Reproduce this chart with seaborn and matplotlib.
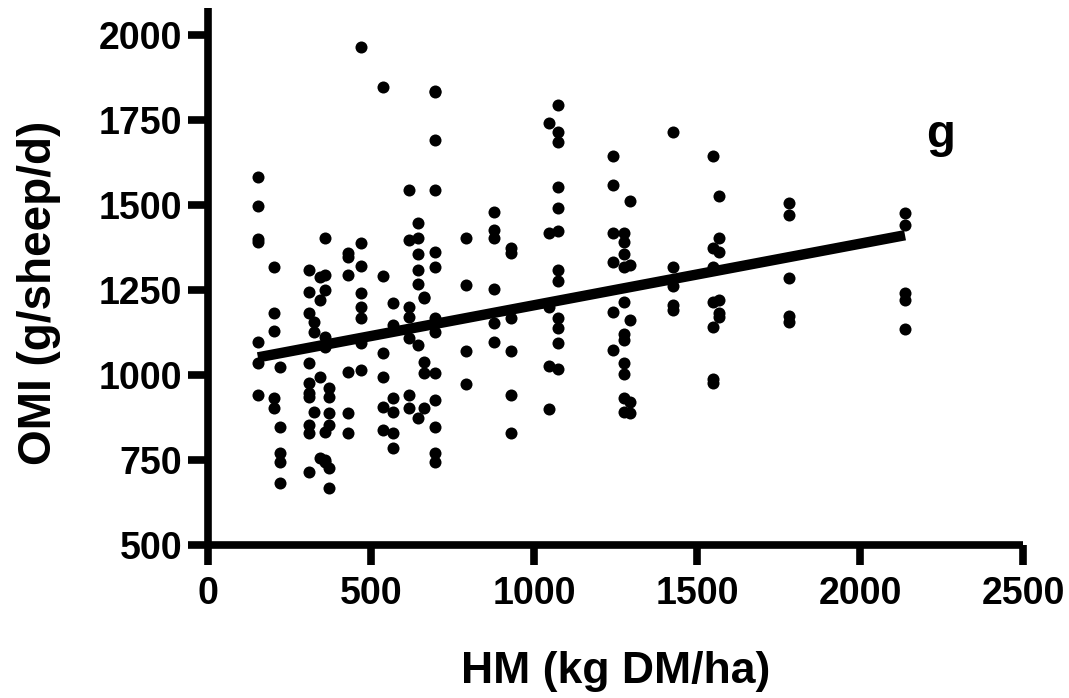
import matplotlib
matplotlib.use("Agg")
import matplotlib.pyplot as plt
import seaborn as sns
import numpy as np
import pandas as pd

# herbage mass (kg DM/ha) of each sampling group, and the OMI values read at each
hm_groups = [153, 202, 221, 309, 325, 343, 358, 371, 429, 469, 536, 567,
             616, 643, 662, 695, 790, 876, 928, 1045, 1072, 1241, 1275,
             1293, 1425, 1550, 1566, 1783, 2138]
omi_groups = [
    [1583, 1497, 1400, 1391, 1097, 1035, 941],
    [1318, 1182, 1129, 932, 903],
    [1024, 847, 771, 744, 682],
    [1309, 1244, 1182, 1035, 976, 947, 935, 853, 829, 715],
    [1156, 1126, 891],
    [1288, 1221, 994, 756],
    [1403, 1294, 1250, 1112, 1082, 832, 750, 744],
    [962, 935, 888, 853, 726, 668],
    [1359, 1347, 1294, 1009, 888, 829],
    [1965, 1388, 1321, 1241, 1200, 1168, 1094, 1015],
    [1847, 1291, 1065, 994, 906, 838],
    [1212, 1147, 932, 891, 829, 785],
    [1544, 1397, 1200, 1171, 1109, 941, 903],
    [1447, 1403, 1356, 1309, 1268, 1088, 874],
    [1229, 1226, 1038, 1006, 903],
    [1832, 1835, 1691, 1544, 1362, 1318, 1168, 1126, 1006, 926, 847, 771, 744],
    [1403, 1265, 1071, 974],
    [1479, 1426, 1403, 1253, 1153, 1097],
    [1374, 1359, 1168, 1071, 941, 829],
    [1741, 1418, 1200, 1026, 900],
    [1794, 1715, 1685, 1553, 1491, 1424, 1309, 1276, 1168, 1138, 1094, 1018],
    [1644, 1559, 1418, 1332, 1185, 1074],
    [1418, 1391, 1356, 1318, 1215, 1121, 1103, 1035, 1003, 932, 891],
    [1512, 1324, 1162, 921, 888],
    [1715, 1318, 1262, 1206, 1191],
    [1644, 1374, 1318, 1215, 1141, 988, 976],
    [1526, 1403, 1362, 1221, 1182, 1171],
    [1506, 1471, 1285, 1174, 1156],
    [1476, 1441, 1241, 1221, 1135],
]

# fitted regression line as shown on the figure
fit_slope = 0.181
fit_intercept = 1024

x_ticks = [0, 500, 1000, 1500, 2000, 2500]
y_ticks = [500, 750, 1000, 1250, 1500, 1750, 2000]

hm = [h for h, vals in zip(hm_groups, omi_groups) for _ in vals]
omi = [v for vals in omi_groups for v in vals]
df = pd.DataFrame({"HM": hm, "OMI": omi})

sns.set_style("ticks")
plt.rcParams["font.family"] = ["Liberation Sans", "DejaVu Sans"]
plt.rcParams["font.weight"] = "bold"
for key in ["text.color", "axes.labelcolor", "xtick.color", "ytick.color",
            "axes.edgecolor"]:
    plt.rcParams[key] = "black"

fig = plt.figure(figsize=(10.69, 6.98), dpi=100)
ax = fig.add_axes([0.1946, 0.2192, 0.7624, 0.7693])

sns.scatterplot(data=df, x="HM", y="OMI", ax=ax, color="black", s=75,
                edgecolor="black", linewidth=0, zorder=3)

fit = pd.DataFrame({"HM": [df.HM.min(), df.HM.max()]})
fit["OMI"] = fit_intercept + fit_slope * fit["HM"]
sns.lineplot(data=fit, x="HM", y="OMI", ax=ax, color="black", lw=7.5,
             solid_capstyle="butt", zorder=4)

ax.set_xlim(0, 2500)
ax.set_ylim(500, 2079)
ax.set_xticks(x_ticks)
ax.set_yticks(y_ticks)
sns.despine(ax=ax)
for s in ["left", "bottom"]:
    ax.spines[s].set_linewidth(5.5)
    ax.spines[s].set_capstyle("butt")
ax.tick_params(length=14.5, width=5.5, labelsize=27)
ax.xaxis.set_tick_params(pad=8)
ax.yaxis.set_tick_params(pad=4)
for lab in ax.get_xticklabels() + ax.get_yticklabels():
    lab.set_fontweight("bold")

ax.set_xlabel("HM (kg DM/ha)", fontsize=32, fontweight="bold", labelpad=28)
ax.set_ylabel("OMI (g/sheep/d)", fontsize=33, fontweight="bold")
ax.yaxis.set_label_coords(-0.18, 0.47)
ax.text(2203, 1670, "g", fontsize=34, fontweight="bold", ha="left",
        va="baseline")

fig.savefig("out.png", dpi=100)
